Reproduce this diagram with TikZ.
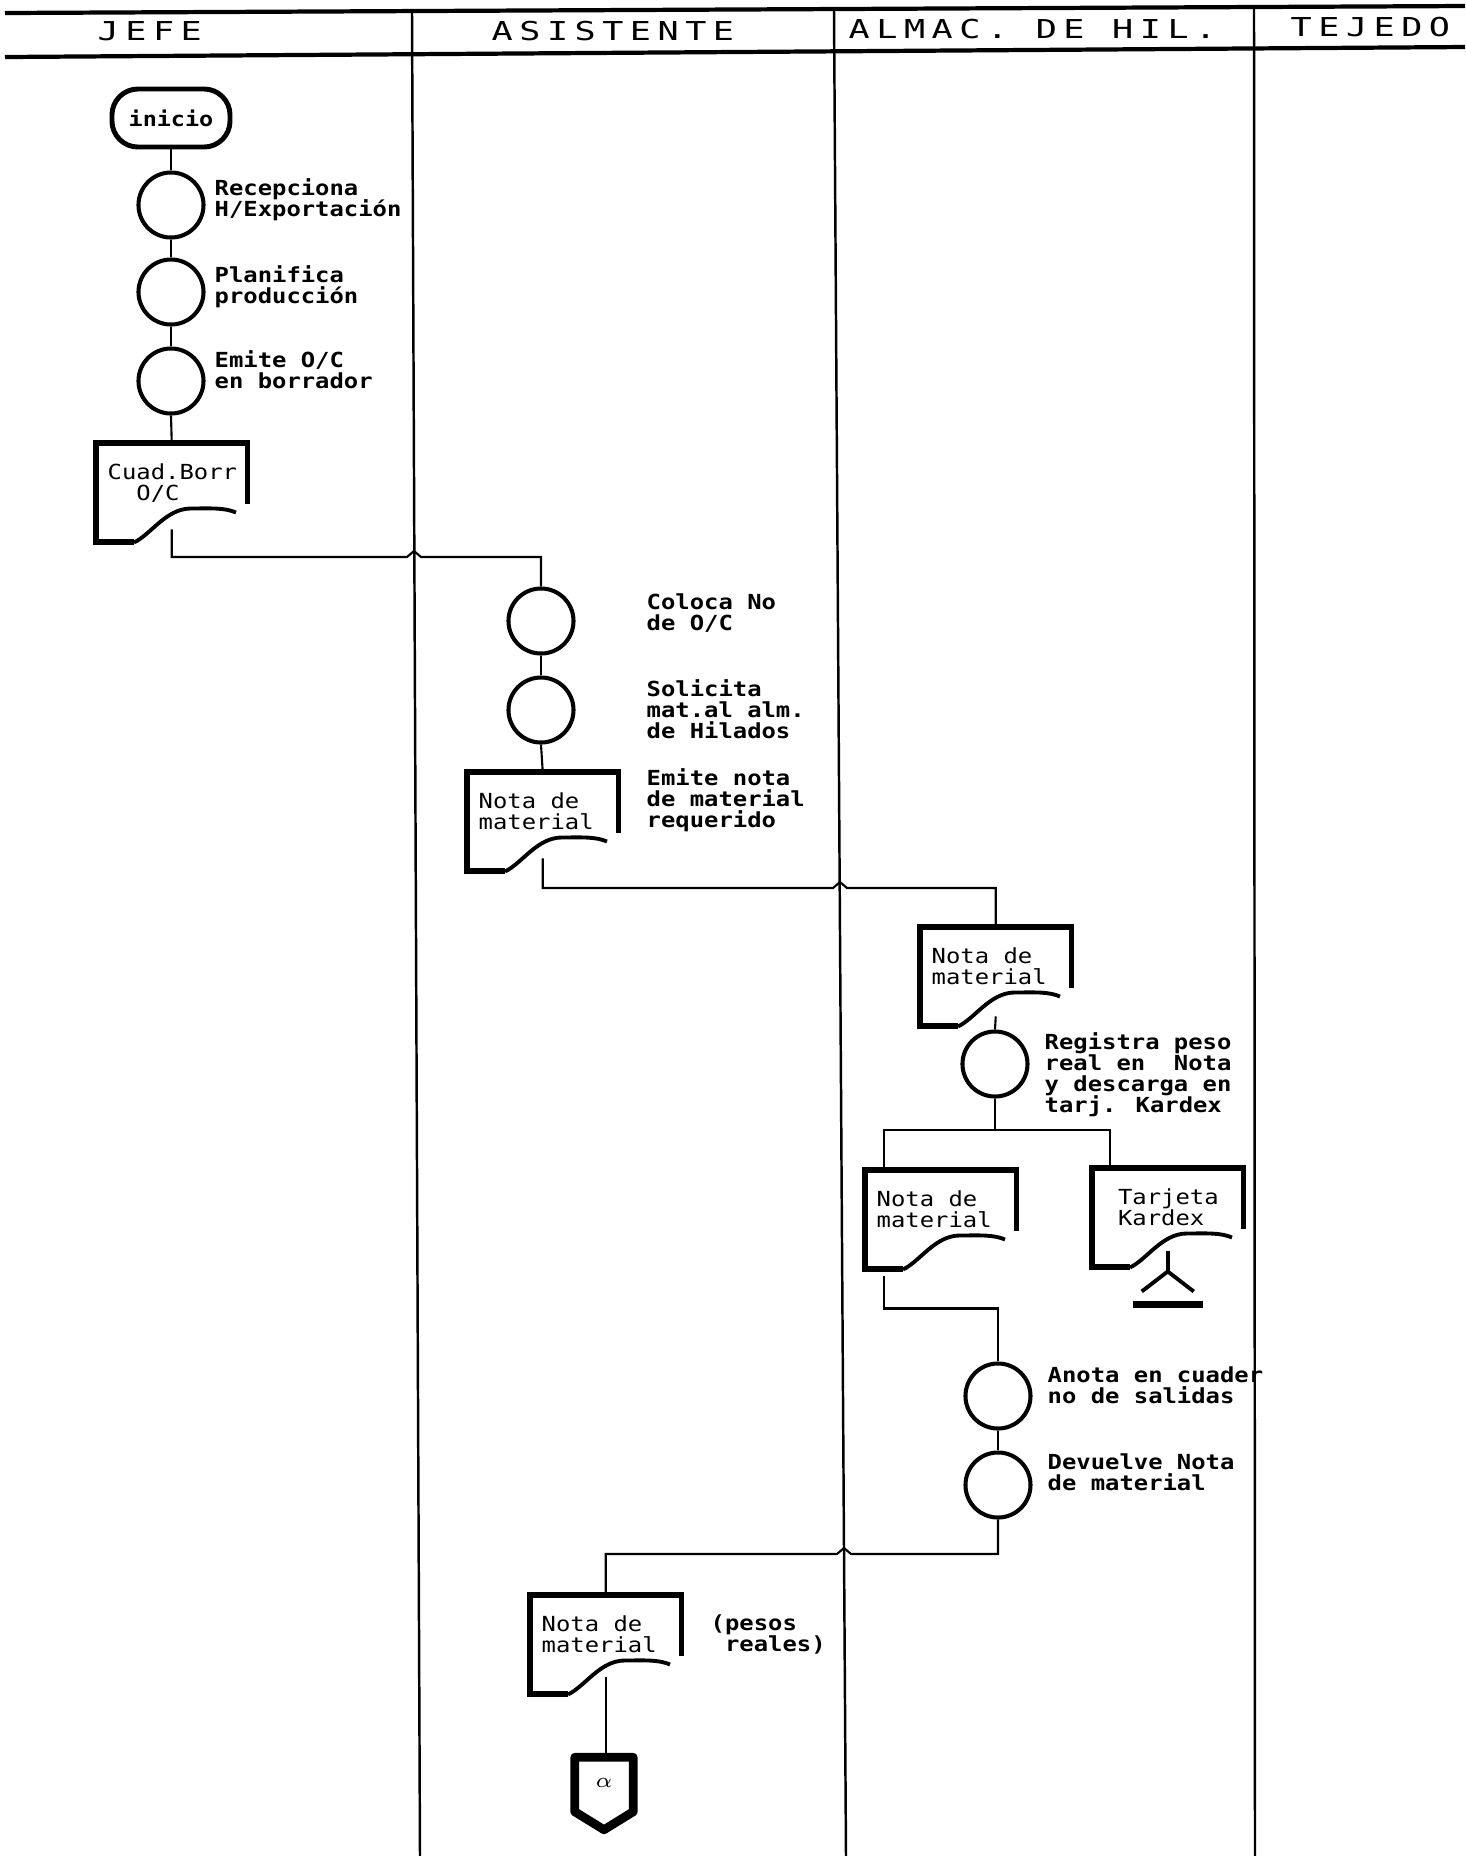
\documentclass[tikz,border=0pt]{standalone}
\usepackage{fontspec}
\usepackage{tikz}

\newfontfamily\flowfont[FakeStretch=1.15]{DejaVu Sans Mono}
\newfontfamily\lanefont[FakeStretch=1.35, LetterSpace=25]{DejaVu Sans Mono}
\newcommand{\tightlines}{\lineskiplimit=-5pt\relax}

\tikzset{
  lane/.style={line width=0.7pt},
  flow/.style={line width=0.6pt},
  proc/.style={circle, draw, line width=1.15pt, minimum size=0.65cm, inner sep=0pt},
  term/.style={draw, rectangle, rounded corners=0.26cm, line width=1.4pt,
    minimum width=1.18cm, minimum height=0.58cm, inner sep=0pt,
    font=\flowfont\bfseries\fontsize{5.8}{6}\selectfont},
  lbl/.style={anchor=north west, align=left, inner sep=0pt,
    font={\flowfont\bfseries\fontsize{5.9}{6}\selectfont\tightlines}},
  docframe/.style={anchor=north west, rectangle, minimum width=1.5cm,
    minimum height=0.98cm, inner sep=0pt},
  doctxt/.style={anchor=north west, align=left, inner sep=0pt,
    font={\flowfont\fontsize{5.9}{6}\selectfont\tightlines}},
  docedge/.style={line width=1.7pt, line join=miter},
  docwave/.style={line width=1.1pt},
  head/.style={anchor=base west, inner sep=0pt, font=\lanefont\fontsize{7.4}{8}\selectfont},
}

% document symbol: name, north west corner, text
\newcommand{\docsym}[3]{%
  \node[docframe] (#1) at (#2) {};
  \node[doctxt] (#1-txt) at ([shift={(11,20)}]#1.north west) {#3};
  \draw[docedge] ([shift={(38,0)}]#1.south west) -- (#1.south west)
    -- (#1.north west) -- (#1.north east) -- ([shift={(0,-38)}]#1.south east);
  \draw[docwave] ([shift={(38,0)}]#1.south west)
    .. controls +(17,-8) and +(-25,0) .. ([shift={(95,-34)}]#1.south west)
    .. controls +(20,0) and +(-12,-5) .. ([shift={(140,-30)}]#1.south west);
}

\begin{document}
\begin{tikzpicture}[x=0.01cm, y=-0.01cm]
  \useasboundingbox (0,0) rectangle (1465,1856);
  % lanes
  \draw[line width=1.2pt] (5,13) -- (1465,6);
  \draw[line width=1.2pt] (5,57) -- (1465,47);
  \draw[lane] (412,12) -- (420,1856);
  \draw[lane] (834,10) -- (846,1856);
  \draw[lane] (1254,7) -- (1255,1856);
  \node[head] (hjefe) at (97,40) {JEFE};
  \node[head] (hasis) at (491,40) {ASISTENTE};
  \node[head] (halmac) at (848,38) {ALMAC. DE HIL.};
  \node[head] (htej) at (1290,36) {TEJEDO};

  % jefe
  \node[term] (inicio) at (171,118) {inicio};
  \foreach \n/\y in {recep/205, planif/292, emite/381}
    \node[proc] (\n) at (171,\y) {};
  \node[lbl] (recep-l) at (214,178) {Recepciona\\H/Exportación};
  \node[lbl] (planif-l) at (214,265) {Planifica\\producción};
  \node[lbl] (emite-l) at (214,350) {Emite O/C\\en borrador};
  \docsym{cuad}{96,443}{Cuad.Borr\\~~O/C}
  \draw[flow] (inicio.south) -- (recep.north);
  \draw[flow] (recep.south) -- (planif.north);
  \draw[flow] (planif.south) -- (emite.north);
  \draw[flow] (emite.south) -- (cuad.north);

  % asistente
  \foreach \n/\y in {coloca/621, solic/710}
    \node[proc] (\n) at (541,\y) {};
  \node[lbl] (coloca-l) at (646,593) {Coloca No\\de O/C};
  \node[lbl] (solic-l) at (646,679) {Solicita\\mat.al alm.\\de Hilados};
  \node[lbl] (notaA-l) at (646,768) {Emite nota\\de material\\requerido};
  \docsym{notaA}{467,772}{Nota de\\material}
  \coordinate (hopA) at (407,557);
  \draw[flow] (cuad.south) ++(0,-13) |- (hopA) -- ++(7,-6) -- ++(7,6) -| (coloca.north);
  \draw[flow] (coloca.south) -- (solic.north);
  \draw[flow] (solic.south) -- (notaA.north);

  % almacen de hilados
  \docsym{notaB}{920,927}{Nota de\\material}
  \node[proc] (regis) at (995,1064) {};
  \node[lbl] (regis-l) at (1044,1032) {Registra peso\\real en~~Nota\\y descarga en\\tarj. Kardex};
  \coordinate (hopB) at (833,888);
  \draw[flow] (notaA.south) ++(0,-13) |- (hopB) -- ++(7,-6) -- ++(7,6) -| (notaB.north);
  \draw[flow] (notaB.south) ++(0,-10) -- (regis.north);
  \docsym{notaC}{865,1170}{Nota de\\material}
  \docsym{kardex}{1092,1168}{~Tarjeta\\~Kardex}
  \coordinate (split) at (995,1130);
  \draw[flow] (regis.south) -- (split);
  \draw[flow] (split) -| ([shift={(19,0)}]notaC.north west);
  \draw[flow] (split) -| ([shift={(18,0)}]kardex.north west);
  % archivo
  \draw[line width=1.1pt] ([shift={(0,-16)}]kardex.south) -- ([shift={(0,4)}]kardex.south) coordinate (apex);
  \draw[line width=1.1pt] ([shift={(-26,24)}]kardex.south) -- (apex) -- ([shift={(26,24)}]kardex.south);
  \draw[line width=2pt] ([shift={(-35,37)}]kardex.south) -- ([shift={(35,37)}]kardex.south);

  \foreach \n/\y in {anota/1396, devuel/1485}
    \node[proc] (\n) at (998,\y) {};
  \node[lbl] (anota-l) at (1047,1366) {Anota en cuader\\no de salidas};
  \node[lbl] (devuel-l) at (1047,1453) {Devuelve Nota\\de material};
  \draw[flow] ([shift={(19,7)}]notaC.south west) -- ++(0,32) -| (anota.north);
  \draw[flow] (anota.south) -- (devuel.north);

  % vuelve al asistente
  \docsym{notaD}{530,1595}{Nota de\\material}
  \node[lbl] (pesos-l) at (710,1614) {(pesos\\~reales)};
  \coordinate (hopC) at (851,1554);
  \draw[flow] (devuel.south) |- (hopC) -- ++(-7,-6) -- ++(-7,6) -| (notaD.north);
  \node[inner sep=0pt, minimum width=0.57cm, minimum height=0.71cm] (alpha) at (604,1793.5) {};
  \draw[line width=2.5pt, line join=round] (alpha.north west) -- (alpha.north east)
    -- ([shift={(0,-18)}]alpha.south east) -- (alpha.south)
    -- ([shift={(0,-18)}]alpha.south west) -- cycle;
  \node[inner sep=0pt, font=\fontsize{6.5}{7}\selectfont] (alpha-txt) at ([shift={(0,-11)}]alpha.center) {$\alpha$};
  \draw[flow] (notaD.south) ++(0,-17) -- (notaD.south |- alpha.north);
\end{tikzpicture}
\end{document}
